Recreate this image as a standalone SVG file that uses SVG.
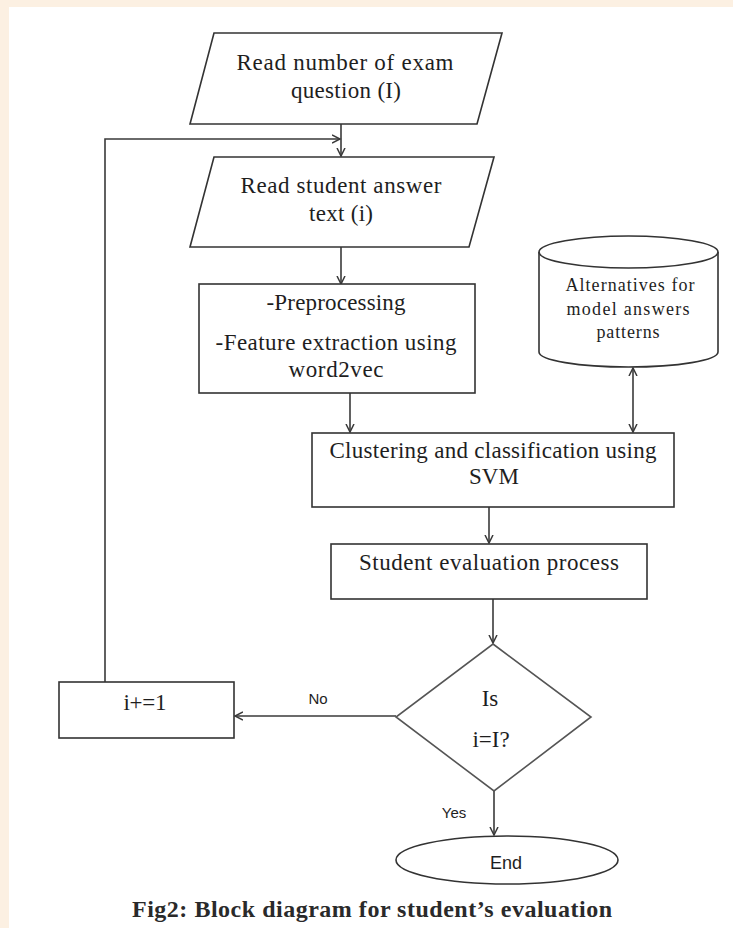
<svg xmlns="http://www.w3.org/2000/svg" width="733" height="928" viewBox="0 0 733 928">
  <style>
    .shape { fill: #ffffff; stroke: #333333; stroke-width: 1.6; }
    .dia { fill: #ffffff; stroke: #555555; stroke-width: 1.6; }
    .conn { fill: none; stroke: #3a3a3a; stroke-width: 1.6; }
    .t { font-family: "Liberation Serif", "Times New Roman", serif; font-size: 23px; fill: #1e1e1e; text-anchor: middle; }
    .ts { font-family: "Liberation Serif", "Times New Roman", serif; font-size: 18px; fill: #1e1e1e; text-anchor: middle; }
    .lbl { font-family: "Liberation Sans", Arial, sans-serif; font-size: 15px; fill: #1e1e1e; text-anchor: middle; }
    .cap { font-family: "Liberation Serif", "Times New Roman", serif; font-size: 24px; font-weight: bold; fill: #2a2a2a; text-anchor: middle; }
  </style>
  <defs>
    <marker id="arr" markerUnits="userSpaceOnUse" markerWidth="10" markerHeight="10" refX="8" refY="4" orient="auto-start-reverse" viewBox="0 0 10 8">
      <path d="M0,0 L8,4 L0,8" fill="none" stroke="#3a3a3a" stroke-width="1.5"/>
    </marker>
  </defs>

  <!-- background -->
  <rect x="0" y="0" width="733" height="928" fill="#fcf0e2"/>
  <rect x="9" y="7" width="724" height="921" fill="#ffffff"/>

  <!-- connectors -->
  <g id="connectors">
    <line class="conn" x1="341" y1="124" x2="341" y2="156" marker-end="url(#arr)"/>
    <polyline class="conn" points="105,682 105,139 340,139" marker-end="url(#arr)"/>
    <line class="conn" x1="341" y1="247" x2="341" y2="284" marker-end="url(#arr)"/>
    <line class="conn" x1="350" y1="393" x2="350" y2="432" marker-end="url(#arr)"/>
    <line class="conn" x1="633" y1="368" x2="633" y2="432" marker-start="url(#arr)" marker-end="url(#arr)"/>
    <line class="conn" x1="489" y1="507" x2="489" y2="543" marker-end="url(#arr)"/>
    <line class="conn" x1="493" y1="599" x2="493" y2="643" marker-end="url(#arr)"/>
    <line class="conn" x1="396" y1="716" x2="235" y2="716" marker-end="url(#arr)"/>
    <line class="conn" x1="494" y1="791" x2="494" y2="835" marker-end="url(#arr)"/>
    <text class="lbl" x="318" y="704">No</text>
    <text class="lbl" x="454" y="818">Yes</text>
  </g>

  <g id="read-questions">
    <polygon class="shape" points="214,33 502,33 477,124 190,124"/>
    <text class="t" x="345" y="70" textLength="217">Read number of  exam</text>
    <text class="t" x="346" y="98" textLength="110">question (I)</text>
  </g>

  <g id="read-answer">
    <polygon class="shape" points="214,157 494,157 469,247 190,247"/>
    <text class="t" x="341" y="193" textLength="201">Read student answer</text>
    <text class="t" x="341" y="221" textLength="64">text (i)</text>
  </g>

  <g id="preprocessing">
    <rect class="shape" x="199" y="284" width="276" height="109"/>
    <text class="t" x="336" y="310" textLength="139">-Preprocessing</text>
    <text class="t" x="336" y="350" textLength="241">-Feature extraction using</text>
    <text class="t" x="336" y="377" textLength="95">word2vec</text>
  </g>

  <g id="patterns-db">
    <path class="shape" d="M539,252 L539,352 A89.5,15 0 0 0 718,352 L718,252"/>
    <ellipse class="shape" cx="628.5" cy="252" rx="89.5" ry="16"/>
    <text class="ts" x="630" y="291" textLength="129">Alternatives for</text>
    <text class="ts" x="628" y="315" textLength="123">model answers</text>
    <text class="ts" x="628" y="338" textLength="63">patterns</text>
  </g>

  <g id="clustering">
    <rect class="shape" x="312" y="433" width="362" height="74"/>
    <text class="t" x="493" y="458" textLength="327">Clustering and classification using</text>
    <text class="t" x="494" y="484" textLength="50">SVM</text>
  </g>

  <g id="evaluation">
    <rect class="shape" x="331" y="544" width="316" height="55"/>
    <text class="t" x="489" y="570" textLength="260">Student evaluation process</text>
  </g>

  <g id="decision">
    <polygon class="dia" points="493,644 591,717 494,791 396,717"/>
    <text class="t" x="490" y="706">Is</text>
    <text class="t" x="491" y="747">i=I?</text>
  </g>

  <g id="increment">
    <rect class="shape" x="59" y="682" width="175" height="56"/>
    <text class="t" x="145" y="710" textLength="43">i+=1</text>
  </g>

  <g id="end">
    <ellipse class="shape" cx="507" cy="860" rx="111" ry="24"/>
    <text class="lbl" x="506" y="869" style="font-size:18px">End</text>
  </g>

  <text class="cap" x="372" y="917" textLength="480">Fig2: Block diagram for student’s evaluation</text>
</svg>
